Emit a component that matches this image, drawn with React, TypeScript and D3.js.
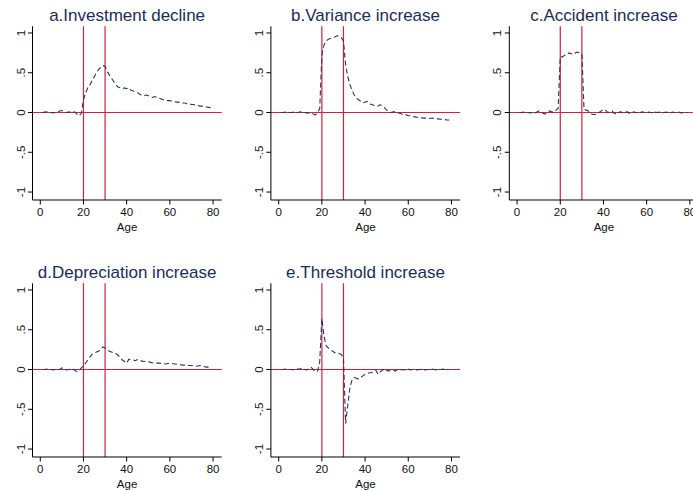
import React from 'react';
import * as d3 from 'd3';

// Ages 1..79 (x categories)
const ages: number[] = d3.range(1, 80);

const investmentDecline = [
  0, 0.005, 0.01, 0.005, 0, -0.005, 0, 0.01, 0.02, 0.025,
  0.01, 0, 0.005, 0.01, 0.01, 0.005, -0.02, -0.04, -0.01, 0.16,
  0.25, 0.31, 0.35, 0.4, 0.45, 0.5, 0.54, 0.57, 0.59, 0.58,
  0.52, 0.47, 0.43, 0.39, 0.35, 0.32, 0.31, 0.3, 0.31, 0.3,
  0.31, 0.28, 0.27, 0.26, 0.25, 0.23, 0.22, 0.21, 0.22, 0.21,
  0.2, 0.19, 0.2, 0.19, 0.18, 0.17, 0.16, 0.16, 0.15, 0.15,
  0.14, 0.14, 0.13, 0.13, 0.12, 0.12, 0.12, 0.11, 0.11, 0.1,
  0.1, 0.09, 0.09, 0.08, 0.08, 0.07, 0.07, 0.065, 0.06,
];

const varianceIncrease = [
  0, 0, 0.005, 0.005, 0, 0, 0.005, 0, 0, 0.01,
  0.005, 0, -0.005, -0.01, -0.01, -0.02, -0.03, 0.0, 0.05, 0.72,
  0.85, 0.9, 0.92, 0.93, 0.94, 0.95, 0.965, 0.96, 0.94, 0.9,
  0.6, 0.45, 0.35, 0.28, 0.22, 0.18, 0.16, 0.14, 0.12, 0.13,
  0.14, 0.11, 0.1, 0.09, 0.08, 0.08, 0.1, 0.08, 0.06, 0.03,
  0.01, 0.0, 0.01, 0.01, 0.0, -0.01, -0.02, -0.03, -0.03, -0.04,
  -0.04, -0.05, -0.055, -0.06, -0.065, -0.065, -0.07, -0.07, -0.07, -0.075,
  -0.07, -0.075, -0.08, -0.08, -0.085, -0.09, -0.09, -0.095, -0.095,
];

const accidentIncrease = [
  0, 0, 0.005, 0, 0, -0.005, 0, -0.01, 0.005, 0.02,
  0.01, -0.01, -0.02, 0.0, 0.02, 0.01, 0.0, 0.03, 0.05, 0.7,
  0.7, 0.72, 0.72, 0.75, 0.74, 0.73, 0.75, 0.76, 0.75, 0.74,
  0.04, 0.03, 0.02, -0.01, -0.025, -0.025, -0.02, 0.0, 0.02, 0.04,
  0.03, 0.0, 0.01, 0.02, -0.01, -0.02, 0.0, 0.01, -0.01, 0.0,
  0.01, -0.01, 0.0, 0.01, 0.0, -0.01, 0.0, 0.01, 0.0, -0.005,
  0.005, 0.0, -0.01, 0.005, 0.0, 0.005, -0.005, 0.0, 0.005, 0,
  -0.005, 0.005, 0, 0, 0.005, -0.005, 0, 0, 0,
];

const depreciationIncrease = [
  0, 0, 0.005, 0.005, 0, -0.005, 0, -0.005, 0, 0.02,
  0.01, -0.005, 0, 0.005, 0.01, -0.01, -0.03, -0.01, 0.02, 0.05,
  0.08, 0.12, 0.16, 0.19, 0.21, 0.22, 0.23, 0.25, 0.285, 0.27,
  0.25, 0.23, 0.22, 0.21, 0.2, 0.18, 0.15, 0.12, 0.1, 0.08,
  0.13, 0.12, 0.12, 0.11, 0.125, 0.12, 0.105, 0.1, 0.105, 0.1,
  0.09, 0.085, 0.085, 0.08, 0.08, 0.075, 0.075, 0.07, 0.075, 0.075,
  0.075, 0.07, 0.07, 0.065, 0.06, 0.055, 0.055, 0.055, 0.05, 0.05,
  0.045, 0.04, 0.045, 0.05, 0.04, 0.035, 0.03, 0.03, 0.03,
];

const thresholdIncrease = [
  0, 0, 0.005, 0, 0, 0, -0.005, 0, 0.005, 0.01,
  0.02, 0, -0.005, 0.01, 0.03, 0.0, -0.03, -0.02, 0.1, 0.64,
  0.42, 0.3, 0.27, 0.25, 0.23, 0.21, 0.21, 0.2, 0.19, 0.15,
  -0.68, -0.45, -0.22, -0.13, -0.1, -0.11, -0.12, -0.1, -0.08, -0.06,
  -0.05, -0.04, -0.04, -0.02, -0.01, -0.06, -0.03, -0.01, 0.01, -0.01,
  -0.02, 0.0, -0.01, -0.02, 0.0, -0.01, 0.0, -0.005, 0.0, 0.005,
  -0.005, 0.0, 0.0, -0.005, 0.0, 0.005, 0, -0.005, 0, 0,
  0.005, 0, -0.005, 0, 0, 0.005, 0, 0, 0,
];

const panelTitles = [
  'a.Investment decline',
  'b.Variance increase',
  'c.Accident increase',
  'd.Depreciation increase',
  'e.Threshold increase',
];
const panelSeries = [
  investmentDecline,
  varianceIncrease,
  accidentIncrease,
  depreciationIncrease,
  thresholdIncrease,
];

const xTicks = [0, 20, 40, 60, 80];
const yTicks = [-1, -0.5, 0, 0.5, 1];
const yTickLabels = ['-1', '-.5', '0', '.5', '1'];
const shockAges = [20, 30];
const xTitle = 'Age';

const FONT = '"Liberation Sans", Arial, Helvetica, sans-serif';
const NAVY = '#1f3b62';
const RED = '#d3203f';
const TITLE = '#1c2d57';

function Panel({ idx }: { idx: number }) {
  const col = idx % 3;
  const row = Math.floor(idx / 3);
  const ox = col * 238.4;
  const oy = row * 257;
  const x = d3.scaleLinear().domain([-3.6, 84]).range([ox + 32.5, ox + 221.7]);
  const y = d3.scaleLinear().domain([-1.1, 1.084]).range([oy + 200, oy + 26.3]);
  const [x0, x1] = x.range();
  const [yb, yt] = y.range();
  const data = panelSeries[idx];
  const line = d3
    .line<number>()
    .x((_, i) => x(ages[i]))
    .y((d) => y(d));
  const cx = (x0 + x1) / 2;
  return (
    <g>
      <text x={cx} y={oy + 20.5} textAnchor="middle" fontSize={17} fill={TITLE} fontFamily={FONT}>
        {panelTitles[idx]}
      </text>
      {/* reference lines */}
      <line x1={x0} x2={x1} y1={y(0)} y2={y(0)} stroke={RED} strokeWidth={1.2} />
      {shockAges.map((a) => (
        <line key={a} x1={x(a)} x2={x(a)} y1={yt} y2={yb} stroke={RED} strokeWidth={1.2} />
      ))}
      {/* data */}
      <path d={line(data) || ''} fill="none" stroke={NAVY} strokeWidth={1.1} strokeDasharray="5,3" />
      {/* axes */}
      <line x1={x0} x2={x0} y1={yt} y2={yb} stroke="#000" strokeWidth={1} />
      <line x1={x0} x2={x1} y1={yb} y2={yb} stroke="#000" strokeWidth={1} />
      {yTicks.map((t, i) => (
        <g key={t}>
          <line x1={x0 - 4.5} x2={x0} y1={y(t)} y2={y(t)} stroke="#000" strokeWidth={1} />
          <text
            transform={`translate(${ox + 24.5},${y(t)}) rotate(-90)`}
            textAnchor="middle"
            fontSize={11.5}
            fill="#111"
            fontFamily={FONT}
          >
            {yTickLabels[i]}
          </text>
        </g>
      ))}
      {xTicks.map((t) => (
        <g key={t}>
          <line x1={x(t)} x2={x(t)} y1={yb} y2={yb + 4.5} stroke="#000" strokeWidth={1} />
          <text x={x(t)} y={oy + 216} textAnchor="middle" fontSize={11.5} fill="#111" fontFamily={FONT}>
            {t}
          </text>
        </g>
      ))}
      <text x={cx} y={oy + 230.5} textAnchor="middle" fontSize={11.5} fill="#111" fontFamily={FONT}>
        {xTitle}
      </text>
    </g>
  );
}

export default function App() {
  return (
    <svg
      width={693}
      height={490}
      style={{ position: 'absolute', left: 0, top: 0, background: '#fff' }}
    >
      <rect width={693} height={490} fill="#fff" />
      {panelTitles.map((_, i) => (
        <Panel key={i} idx={i} />
      ))}
    </svg>
  );
}
